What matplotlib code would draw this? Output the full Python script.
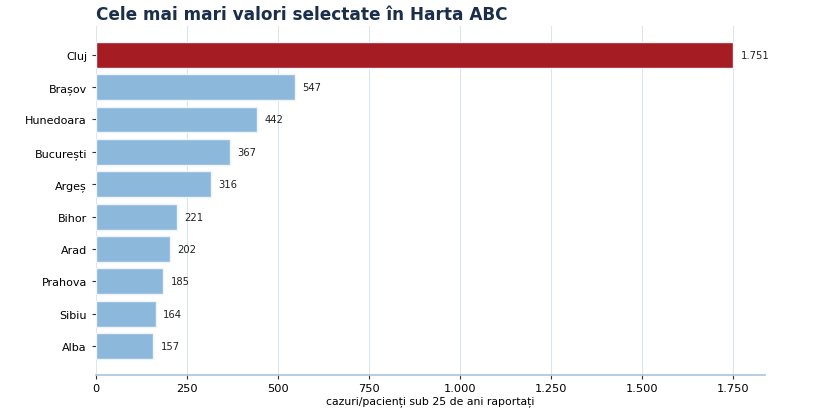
import numpy as np
import matplotlib
matplotlib.use('Agg')
import matplotlib.pyplot as plt
from matplotlib.ticker import FuncFormatter

judete = ['Cluj', 'Brașov', 'Hunedoara', 'București', 'Argeș', 'Bihor', 'Arad', 'Prahova', 'Sibiu', 'Alba']
valori = [1751, 547, 442, 367, 316, 221, 202, 185, 164, 157]
culori = ['#a51c22'] + ['#8cb8db'] * 9

def fmt(v, pos=None):
	return '{:,.0f}'.format(v).replace(',', '.')

fig = plt.figure(figsize=(8.14, 4.14), dpi=100)
ax = fig.add_axes([0.118, 0.092, 0.822, 0.843])

y = np.arange(len(judete))
ax.barh(y, valori, height=0.8, color=culori, edgecolor='#eef4fa', linewidth=1, zorder=2)
for yi, v in zip(y, valori):
	ax.text(v + 20, yi, fmt(v), va='center', ha='left', fontsize=7.2, color='#222222')

ax.set_yticks(y)
ax.set_yticklabels(judete, fontsize=8)
ax.invert_yaxis()
ax.set_xlim(0, 1838)
ax.set_xticks([0, 250, 500, 750, 1000, 1250, 1500, 1750])
ax.xaxis.set_major_formatter(FuncFormatter(fmt))
ax.tick_params(axis='x', labelsize=8.2, length=3, color='#333333', pad=2.5)
ax.tick_params(axis='y', length=3, color='#333333')
ax.set_xlabel('cazuri/pacienți sub 25 de ani raportați', fontsize=7.8, labelpad=2)

ax.grid(axis='x', color='#dce6f0', linewidth=0.8, zorder=0)
ax.set_axisbelow(True)
for s in ['top', 'right', 'left']:
	ax.spines[s].set_visible(False)
ax.spines['bottom'].set_color('#a9c4dd')
ax.spines['bottom'].set_linewidth(1.2)

ax.set_title('Cele mai mari valori selectate în Harta ABC', loc='left', fontsize=12.2,
	fontweight='bold', color='#1b2f4b', pad=5)

plt.savefig('out.png', dpi=100)
